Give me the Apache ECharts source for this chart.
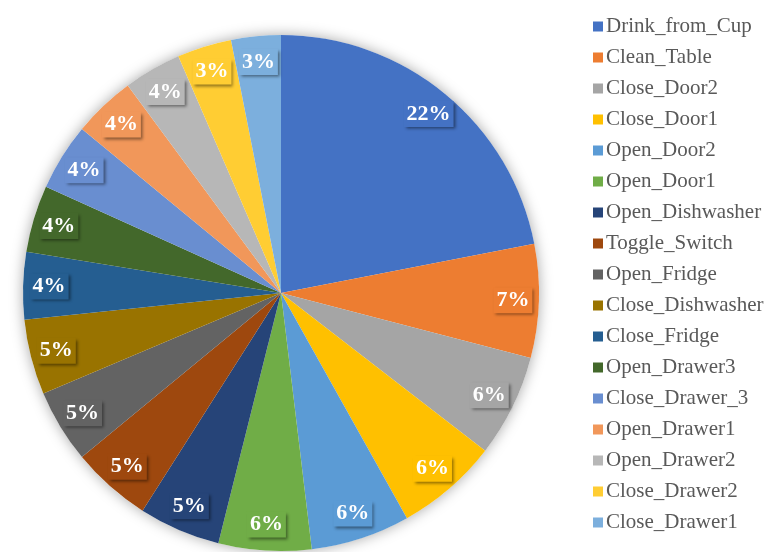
<!DOCTYPE html>
<html>
<head>
<meta charset="utf-8">
<script src="https://cdn.jsdelivr.net/npm/echarts@6/dist/echarts.min.js"></script>
<style>
html,body{margin:0;padding:0;background:#fff;}
#chart{width:774px;height:552px;}
</style>
</head>
<body>
<div id="chart"></div>
<script>
var categories = ["Drink_from_Cup","Clean_Table","Close_Door2","Close_Door1","Open_Door2","Open_Door1","Open_Dishwasher","Toggle_Switch","Open_Fridge","Close_Dishwasher","Close_Fridge","Open_Drawer3","Close_Drawer_3","Open_Drawer1","Open_Drawer2","Close_Drawer2","Close_Drawer1"];
var shares = [21.9,7.1,6.4,6.4,6.2,5.8,5.1,5.0,4.6,4.7,4.2,4.2,4.2,3.9,3.6,3.4,3.1];
var colors = ["#4472C4","#ED7D31","#A5A5A5","#FFC000","#5B9BD5","#70AD47","#264478","#9E480E","#636363","#997300","#255E91","#43682B","#698ED0","#F1975A","#B7B7B7","#FFCD33","#7CAFDD"];

var chart = echarts.init(document.getElementById('chart'), null, {renderer:'canvas'});
var center = [281, 293];
var R = 258;

var mainData = categories.map(function(n,i){ return {name:n, value:shares[i], itemStyle:{color:colors[i]}}; });
var labelData = categories.map(function(n,i){ return {name:n, value:shares[i], label:{backgroundColor:colors[i]}}; });

chart.setOption({
  animation:false,
  backgroundColor:'#fff',
  legend:{
    data:categories,
    orient:'vertical',
    left:588, top:11,
    itemWidth:10, itemHeight:10, itemGap:10,
    icon:'rect',
    selectedMode:false,
    textStyle:{fontFamily:'Liberation Serif', fontSize:21, lineHeight:21, color:'#595959', padding:[0,0,0,-2]}
  },
  series:[
    {
      type:'pie', name:'shadow', center:center, radius:[0,R], silent:true, z:1,
      legendHoverLink:false,
      label:{show:false}, labelLine:{show:false},
      itemStyle:{color:'#fff', shadowBlur:14, shadowColor:'rgba(0,0,0,0.35)'},
      data:[{name:'__bg', value:1}]
    },
    {
      type:'pie', name:'main', center:center, radius:[0,R], startAngle:90, clockwise:true, z:2,
      label:{show:false}, labelLine:{show:false},
      emphasis:{disabled:true},
      itemStyle:{borderWidth:0},
      data:mainData
    },
    {
      type:'pie', name:'labels', center:center, radius:[212,246], startAngle:90, clockwise:true, z:3,
      silent:true,
      emphasis:{disabled:true},
      itemStyle:{color:'rgba(0,0,0,0)', borderWidth:0},
      labelLine:{show:false},
      label:{
        show:true, position:'inside',
        formatter:function(p){ return Math.round(p.percent) + '%'; },
        color:'#fff', fontFamily:'Liberation Serif', fontWeight:'bold', fontSize:22, lineHeight:22,
        padding:[2,3,2,3],
        shadowColor:'rgba(0,0,0,0.45)', shadowBlur:3, shadowOffsetX:2, shadowOffsetY:2
      },
      data:labelData
    }
  ]
});
</script>
</body>
</html>
